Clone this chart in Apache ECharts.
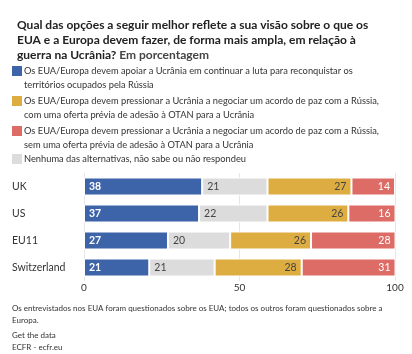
<!DOCTYPE html>
<html>
<head>
<meta charset="utf-8">
<script src="https://cdn.jsdelivr.net/npm/echarts@6/dist/echarts.min.js"></script>
<style>
  html, body { margin: 0; padding: 0; background: #fff; }
  #chart { width: 412px; height: 354px; }
</style>
</head>
<body>
<div id="chart"></div>
<script>
// categories, top to bottom
const countries = ['UK', 'US', 'EU11', 'Switzerland'];

// series values (percent), stacked left to right
const apoiar = [38, 37, 27, 21];
const nenhuma = [21, 22, 20, 21];
const comOtan = [27, 26, 26, 28];
const semOtan = [14, 16, 28, 31];

const xTicks = [0, 50, 100];

const nomes = {
    apoiar: 'Os EUA/Europa devem apoiar a Ucrânia em continuar a luta para reconquistar os\nterritórios ocupados pela Rússia',
    comOtan: 'Os EUA/Europa devem pressionar a Ucrânia a negociar um acordo de paz com a Rússia,\ncom uma oferta prévia de adesão à OTAN para a Ucrânia',
    semOtan: 'Os EUA/Europa devem pressionar a Ucrânia a negociar um acordo de paz com a Rússia,\nsem uma oferta prévia de adesão à OTAN para a Ucrânia',
    nenhuma: 'Nenhuma das alternativas, não sabe ou não respondeu'
};

const cores = {
    apoiar: '#3D63A8',
    nenhuma: '#DCDCDC',
    comOtan: '#DEAD42',
    semOtan: '#DD6C67'
};

const FONT = 'Lato, "Noto Sans", sans-serif';

function serie(key, data, pos, cor) {
    return {
        name: nomes[key],
        type: 'bar',
        stack: 'total',
        data: data,
        barWidth: 18,
        itemStyle: { color: cores[key], borderColor: '#fff', borderWidth: 1 },
        label: {
            show: true,
            position: pos,
            distance: 5,
            color: cor,
            fontFamily: FONT,
            fontSize: 10.5,
            fontWeight: key === 'apoiar' ? 'bold' : 'normal'
        }
    };
}

// legend drawn by hand so wrapped names line up with their squares
const legendOrder = ['apoiar', 'comOtan', 'semOtan', 'nenhuma'];
const legendTop = [66, 96, 126, 154];
const legendGraphics = [];
legendOrder.forEach((k, i) => {
    legendGraphics.push({
        type: 'rect', left: 12, top: legendTop[i],
        shape: { width: 10, height: 10 },
        style: { fill: cores[k] }
    });
    legendGraphics.push({
        type: 'text', left: 24, top: legendTop[i] - 1.5,
        style: {
            text: nomes[k], fill: '#333', font: '9.3px ' + FONT, lineHeight: 13.5
        }
    });
});

const notas = [
    { text: 'Os entrevistados nos EUA foram questionados sobre os EUA; todos os outros foram questionados sobre a\nEuropa.', top: 302 },
    { text: 'Get the data', top: 329 },
    { text: 'ECFR - ecfr.eu', top: 341 }
];
notas.forEach(n => legendGraphics.push({
    type: 'text', left: 12, top: n.top,
    style: { text: n.text, fill: '#333', font: '8px ' + FONT, lineHeight: 12 }
}));

const chart = echarts.init(document.getElementById('chart'));
chart.setOption({
    animation: false,
    title: {
        left: 12, top: 13,
        text: '{b|Qual das opções a seguir melhor reflete a sua visão sobre o que os}\n{b|EUA e a Europa devem fazer, de forma mais ampla, em relação à}\n{b|guerra na Ucrânia?}{n| Em porcentagem}',
        textStyle: {
            rich: {
                b: { fontFamily: FONT, fontSize: 12, fontWeight: 'bold', color: '#222', lineHeight: 15 },
                n: { fontFamily: FONT, fontSize: 12, color: '#444', lineHeight: 15 }
            }
        }
    },
    graphic: legendGraphics,
    grid: { left: 84, right: 17, top: 173, height: 108 },
    xAxis: {
        type: 'value', min: 0, max: 100, interval: 50,
        axisLine: { show: false }, axisTick: { show: false },
        splitLine: { lineStyle: { color: '#e6e6e6' } },
        axisLabel: {
            margin: 2, color: '#333', fontFamily: FONT, fontSize: 10,
            formatter: v => xTicks.includes(v) ? String(v) : ''
        }
    },
    yAxis: {
        type: 'category', data: countries, inverse: true,
        axisLine: { show: false }, axisTick: { show: false },
        axisLabel: {
            align: 'left', margin: 72, color: '#333',
            fontFamily: FONT, fontSize: 10.5
        }
    },
    series: [
        serie('apoiar', apoiar, 'insideLeft', '#fff'),
        serie('nenhuma', nenhuma, 'insideLeft', '#444'),
        serie('comOtan', comOtan, 'insideRight', '#444'),
        serie('semOtan', semOtan, 'insideRight', '#fff')
    ]
});
</script>
</body>
</html>
